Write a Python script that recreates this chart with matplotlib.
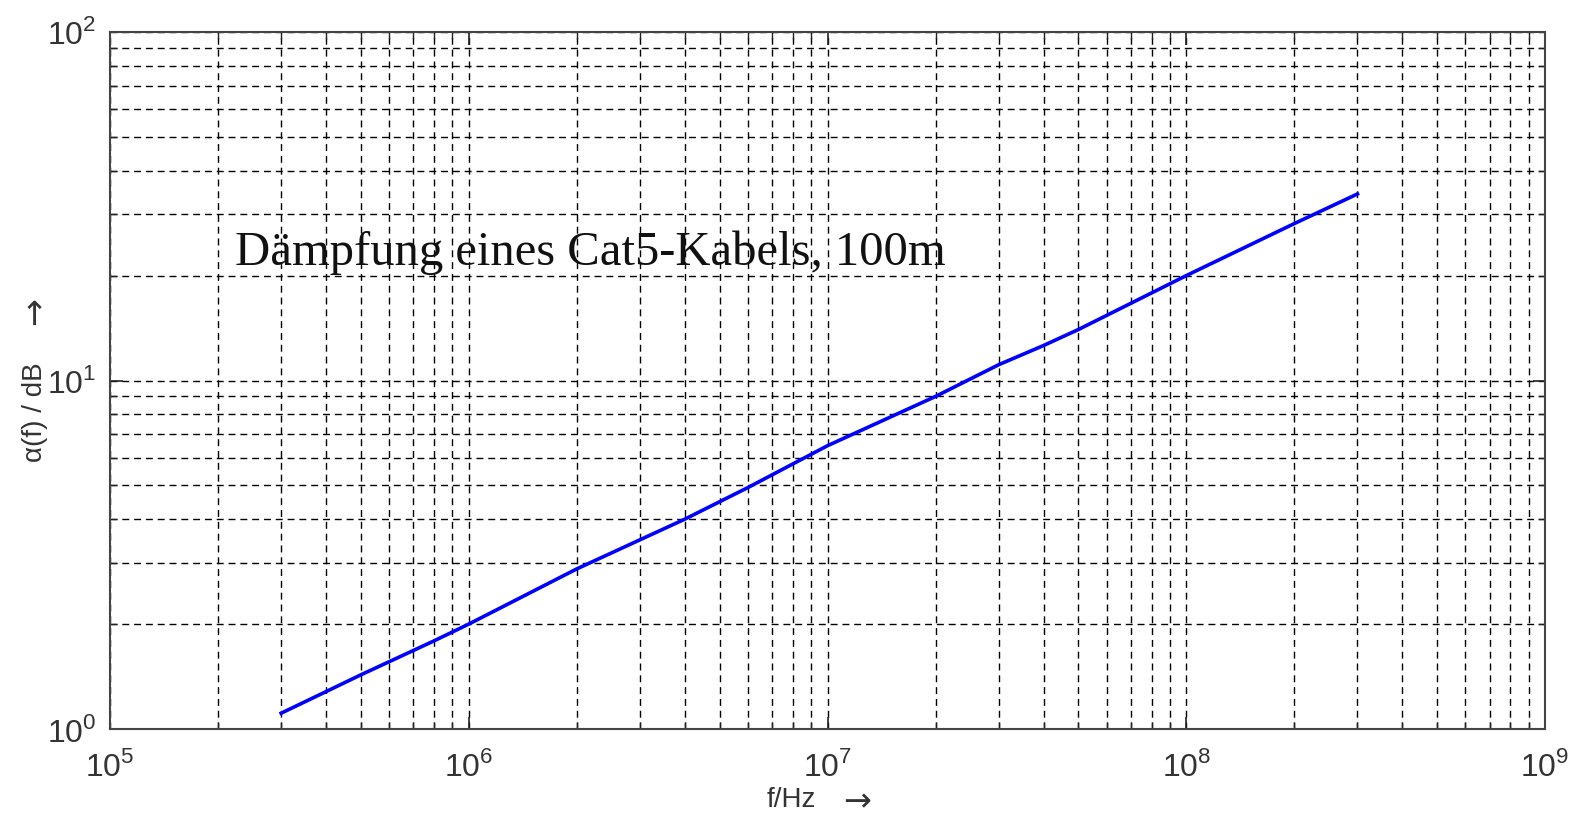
import numpy as np
import matplotlib
matplotlib.use('Agg')
import matplotlib.pyplot as plt
from matplotlib.ticker import LogLocator, FixedLocator, NullFormatter

plt.rcParams['mathtext.fontset'] = 'custom'
plt.rcParams['mathtext.rm'] = 'Liberation Sans'
plt.rcParams['font.family'] = ['Liberation Sans', 'DejaVu Sans']

# values
freq = [3e5, 4e5, 5e5, 6e5, 8e5, 1e6, 2e6, 4e6, 6e6, 1e7, 2e7, 3e7, 4e7, 5e7, 1e8, 2e8, 3e8]
atten = [1.11, 1.28, 1.43, 1.56, 1.79, 2.0, 2.88, 4.0, 4.93, 6.5, 9.0, 11.1, 12.6, 14.0, 20.0, 28.2, 34.3]

x_ticks = [1e5, 1e6, 1e7, 1e8, 1e9]
x_labels = [r'$10^{5}$', r'$10^{6}$', r'$10^{7}$', r'$10^{8}$', r'$10^{9}$']
y_ticks = [1, 10, 100]
y_labels = [r'$10^{0}$', r'$10^{1}$', r'$10^{2}$']

fig = plt.figure(figsize=(15.71, 8.16), dpi=100)
ax = fig.add_axes([0.0700, 0.1066, 0.9135, 0.8542])

ax.plot(freq, atten, color='#0000ff', lw=2.6)

ax.set_xscale('log')
ax.set_yscale('log')
ax.set_xlim(1e5, 1e9)
ax.set_ylim(1, 100)

ax.xaxis.set_major_locator(FixedLocator(x_ticks))
ax.yaxis.set_major_locator(FixedLocator(y_ticks))
ax.xaxis.set_minor_locator(LogLocator(base=10, subs=np.arange(2, 10)))
ax.yaxis.set_minor_locator(LogLocator(base=10, subs=np.arange(2, 10)))
ax.xaxis.set_minor_formatter(NullFormatter())
ax.yaxis.set_minor_formatter(NullFormatter())
ax.set_xticklabels(x_labels)
ax.set_yticklabels(y_labels)

ax.grid(True, which='both', color='black', linestyle=(0, (5, 3.5)), lw=1.0)
ax.tick_params(which='both', direction='in', top=True, right=True, colors='#222222',
               labelcolor='#333333')
ax.tick_params(axis='x', which='major', length=9, width=1.2, labelsize=23, pad=16)
ax.tick_params(axis='y', which='major', length=9, width=1.2, labelsize=23, pad=10)
ax.tick_params(which='minor', length=5, width=1.0)
for s in ax.spines.values():
    s.set_color('#444444')
    s.set_linewidth(1.5)

# labels, arrows drawn separately in DejaVu (wider arrow glyph)
ax.text(0.492, -0.102, 'f/Hz', transform=ax.transAxes, fontsize=20, color='#333333',
        ha='right', va='center')
ax.text(0.5206, -0.104, '\u2192', transform=ax.transAxes, fontsize=24, color='#333333',
        ha='center', va='center', family='DejaVu Sans')
ax.text(-0.052, 0.455, '\u03b1(f) / dB', transform=ax.transAxes, fontsize=20,
        color='#333333', ha='center', va='center', rotation=90)
ax.text(-0.052, 0.6, '\u2192', transform=ax.transAxes, fontsize=24, color='#333333',
        ha='center', va='center', rotation=90, family='DejaVu Sans')

ax.text(0.087, 0.666, 'Dämpfung eines Cat5-Kabels, 100m', transform=ax.transAxes,
        fontsize=35, family='Liberation Serif', va='baseline', ha='left', color='#111111')

fig.savefig('out.png', dpi=100, facecolor='white')
